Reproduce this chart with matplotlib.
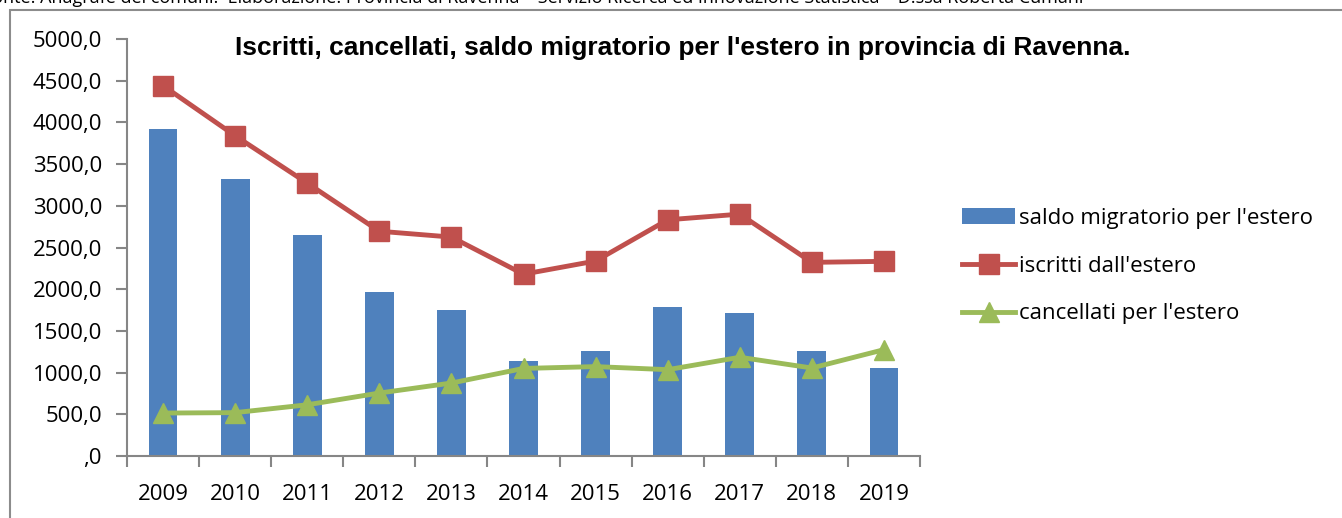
import matplotlib.pyplot as plt
import numpy as np
from matplotlib.patches import Rectangle

anni = ['2009', '2010', '2011', '2012', '2013', '2014', '2015', '2016', '2017', '2018', '2019']
saldo = [3925, 3320, 2650, 1970, 1755, 1135, 1260, 1785, 1712, 1255, 1052]
iscritti = [4440, 3840, 3272, 2695, 2625, 2180, 2338, 2832, 2900, 2322, 2334]
cancellati = [515, 520, 614, 755, 875, 1050, 1072, 1035, 1184, 1055, 1275]
yticks = [0, 500, 1000, 1500, 2000, 2500, 3000, 3500, 4000, 4500, 5000]

fonte = ("Fonte: Anagrafe dei comuni.  Elaborazione: Provincia di Ravenna \u2013 "
         "Servizio Ricerca ed Innovazione Statistica \u2013 D.ssa Roberta Cumani")
titolo = "Iscritti, cancellati, saldo migratorio per l'estero in provincia di Ravenna."

plt.rcParams['font.family'] = ['Open Sans', 'DejaVu Sans']

W, H = 1342, 518
fig = plt.figure(figsize=(W / 100, H / 100), dpi=100)
ax = fig.add_axes([127 / W, 1 - 456 / H, (920 - 127) / W, (456 - 39) / H])

x = np.arange(len(anni))
ax.bar(x, saldo, width=0.4, color='#4F81BD', label="saldo migratorio per l'estero", zorder=2)
ax.plot(x, iscritti, color='#C0504D', lw=3.5, marker='s', ms=14,
        label="iscritti dall'estero", zorder=3)
ax.plot(x, cancellati, color='#9BBB59', lw=3.5, marker='^', ms=15,
        label="cancellati per l'estero", zorder=3)

ax.set_xlim(-0.5, len(anni) - 0.5)
ax.set_ylim(0, 5000)
ax.set_yticks(yticks)
ax.set_yticklabels([('%d,0' % v) if v else ',0' for v in yticks])
ax.set_xticks(np.arange(len(anni) + 1) - 0.5)
ax.set_xticklabels([])
ax.set_xticks(x, minor=True)
ax.set_xticklabels(anni, minor=True)

gray = '#868686'
for s in ['top', 'right']:
    ax.spines[s].set_visible(False)
for s in ['left', 'bottom']:
    ax.spines[s].set_color(gray)
    ax.spines[s].set_linewidth(1.5)
ax.tick_params(axis='y', which='major', length=8, width=1.5, color=gray,
               labelsize=16, pad=10)
ax.tick_params(axis='x', which='major', length=8, width=1.5, color=gray)
ax.tick_params(axis='x', which='minor', length=0, labelsize=16, pad=20)

fig.text(683 / W, 1 - 48 / H, titolo, ha='center', va='center',
         fontsize=19, fontweight='bold', family='Liberation Sans')

# didascalia della fonte, tagliata in alto come nell'originale
fig.text(1083 / W, 1 - 3 / H, fonte, ha='right', va='baseline', fontsize=13)

fig.add_artist(Rectangle((10 / W, -0.1), 1.5, 1 - 10 / H + 0.1,
                         transform=fig.transFigure, fill=False,
                         edgecolor='#8c8c8c', lw=1.5))

handles, labels = ax.get_legend_handles_labels()
order = [2, 0, 1]
ax.legend([handles[i] for i in order], [labels[i] for i in order],
          loc='upper left', bbox_to_anchor=(962 / W, 1 - 208 / H),
          bbox_transform=fig.transFigure, frameon=False, fontsize=16,
          borderpad=0, borderaxespad=0,
          handlelength=2.4, handletextpad=0.15, labelspacing=1.2)

fig.savefig('out.png', dpi=100)
